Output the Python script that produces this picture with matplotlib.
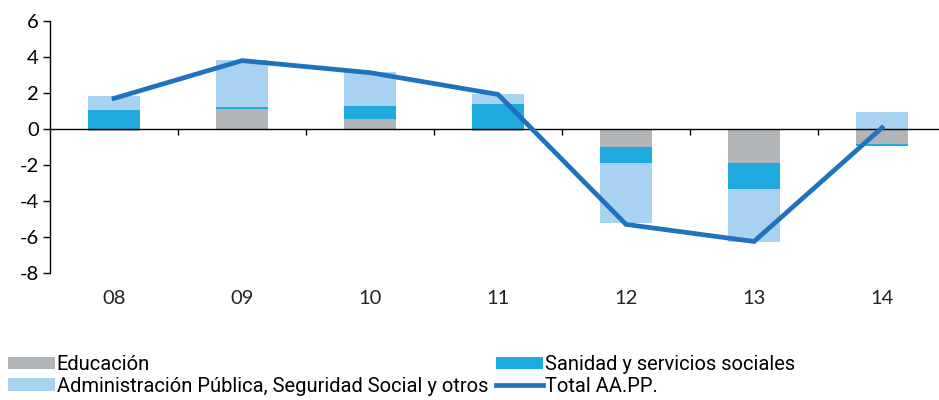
import numpy as np
import matplotlib
matplotlib.use("Agg")
import matplotlib.pyplot as plt
from matplotlib.font_manager import fontManager

# Datos (variación, puntos porcentuales)
anios = ["08", "09", "10", "11", "12", "13", "14"]
educacion = [-0.10, 1.09, 0.55, -0.10, -1.02, -1.87, -0.83]
sanidad = [1.05, 0.13, 0.75, 1.39, -0.85, -1.44, -0.09]
administracion = [0.78, 2.61, 1.85, 0.55, -3.37, -2.97, 0.96]
total = [1.70, 3.80, 3.13, 1.92, -5.30, -6.25, 0.07]

series = [
    ("Educación", educacion, "#B2B5B8"),
    ("Sanidad y servicios sociales", sanidad, "#1FAAE0"),
    ("Administración Pública, Seguridad Social y otros", administracion, "#A9D1F0"),
]
COLOR_TOTAL = "#1F72BE"

nombres = {f.name for f in fontManager.ttflist}
fuente_leyenda = "Roboto" if "Roboto" in nombres else "Liberation Sans"
fuente_ejes = "Lato" if "Lato" in nombres else "DejaVu Sans"

fig = plt.figure(figsize=(9.39, 4.0), dpi=100)
ax = fig.add_axes([50 / 939, 1 - 273 / 400, 1 - 50 / 939, 252 / 400])

x = np.arange(len(anios))
ancho = 0.41
base_pos = np.zeros(len(anios))
base_neg = np.zeros(len(anios))
handles = {}
for nombre, valores, color in series:
    v = np.array(valores)
    bottoms = np.where(v >= 0, base_pos, base_neg)
    b = ax.bar(x, v, width=ancho, bottom=bottoms, color=color, zorder=2, label=nombre)
    handles[nombre] = b
    base_pos = base_pos + np.where(v >= 0, v, 0)
    base_neg = base_neg + np.where(v < 0, v, 0)

linea, = ax.plot(x, total, color=COLOR_TOTAL, lw=3.4, zorder=4, label="Total AA.PP.",
                 solid_joinstyle="miter")

ax.set_ylim(-8, 6)
ax.set_xlim(-0.5, -0.5 + 889 / 128)
ax.set_yticks(np.arange(-8, 7, 2))
ax.set_yticklabels([str(v) for v in range(-8, 7, 2)], fontsize=14.5, family=fuente_ejes)
ax.tick_params(axis="y", direction="out", length=5, width=1, pad=3)

for lado in ["top", "right"]:
    ax.spines[lado].set_visible(False)
ax.spines["bottom"].set_position(("data", 0))
ax.spines["bottom"].set_zorder(3)
ax.spines["left"].set_linewidth(1)
ax.spines["bottom"].set_linewidth(1)

# marcas entre categorias sobre el eje cero
ax.set_xticks(x[:-1] + 0.5)
ax.set_xticklabels([])
ax.tick_params(axis="x", direction="out", length=4, width=1)
for xi, et in zip(x, anios):
    ax.text(xi, -0.1, et, transform=ax.get_xaxis_transform(), ha="center", va="center",
            fontsize=14.5, family=fuente_ejes, color="#222222")

orden = [handles["Educación"], handles["Administración Pública, Seguridad Social y otros"],
         handles["Sanidad y servicios sociales"], linea]
etiquetas = [h.get_label() for h in orden]
fig.legend(orden, etiquetas, ncol=2, loc="upper left", bbox_to_anchor=(0.009, 0.112),
           frameon=False, prop={"family": [fuente_leyenda, "DejaVu Sans"], "size": 14.5},
           handlelength=2.3, handleheight=0.6, handletextpad=0.1, columnspacing=0.4,
           labelspacing=0.12, borderaxespad=0, borderpad=0)

fig.savefig("out.png", dpi=100)
